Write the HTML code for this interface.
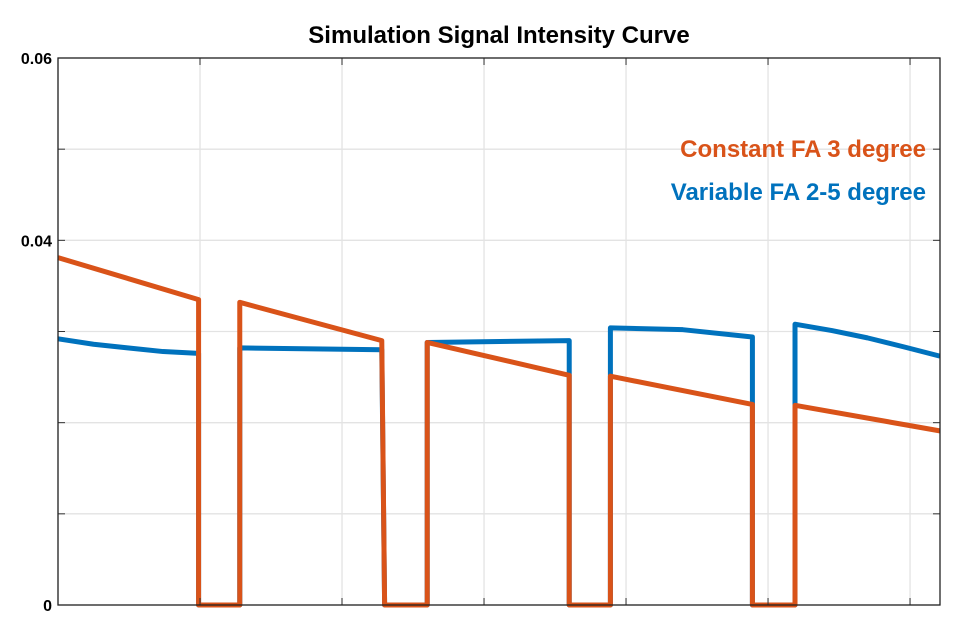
<!DOCTYPE html>
<html><head><meta charset="utf-8"><style>
body{margin:0;background:#fff;}
svg{display:block;font-family:"Liberation Sans","DejaVu Sans",sans-serif;}
</style></head><body>
<svg id="chart" width="966" height="632">
<text x="499" y="43" text-anchor="middle" font-size="24" font-weight="bold" fill="#000">Simulation Signal Intensity Curve</text>
<g id="grid"></g><g id="series"></g><g id="axes"></g>
<text x="926" y="157" text-anchor="end" font-size="24" font-weight="bold" fill="#D95319">Constant FA 3 degree</text>
<text x="926" y="200" text-anchor="end" font-size="24" font-weight="bold" fill="#0072BD">Variable FA 2-5 degree</text>
</svg>
<script>
const yTicks=[0,0.01,0.02,0.03,0.04,0.05,0.06];
const yLabels=["0","","","","0.04","","0.06"];
const xTicks=[0,1,2,3,4,5,6];
const orangeX=[0,0.99,0.99,1.28,1.28,2.28,2.30,2.60,2.60,3.60,3.60,3.89,3.89,4.89,4.89,5.19,5.19,6.21];
const orangeY=[0.0381,0.0335,0,0,0.0332,0.0290,0,0,0.0288,0.0252,0,0,0.0251,0.0220,0,0,0.0219,0.0191];
const blueX=[0,0.25,0.49,0.74,0.99,0.99,1.28,1.28,1.80,2.28,2.30,2.60,2.60,3.60,3.60,3.89,3.89,4.40,4.89,4.89,5.19,5.19,5.45,5.70,5.96,6.21];
const blueY=[0.0292,0.0286,0.0282,0.0278,0.0276,0,0,0.0282,0.0281,0.0280,0,0,0.0288,0.0290,0,0,0.0304,0.0302,0.0294,0,0,0.0308,0.0301,0.0293,0.0283,0.0273];
const L=58,R=940,T=58,B=605,xMax=6.211,yMax=0.06;
const sx=v=>L+v/xMax*(R-L), sy=v=>B-v/yMax*(B-T);
const NS="http://www.w3.org/2000/svg";
function mk(t,a,p){const e=document.createElementNS(NS,t);for(const k in a)e.setAttribute(k,a[k]);p.appendChild(e);return e;}
const grid=document.getElementById('grid'),axes=document.getElementById('axes'),ser=document.getElementById('series');
xTicks.forEach(v=>{const g=mk('line',{x1:sx(v),x2:sx(v),y1:T,y2:B,stroke:'#e3e3e3','stroke-width':1.3},grid);


mk('line',{x1:sx(v),x2:sx(v),y1:B,y2:B-7,stroke:'#333'},axes);mk('line',{x1:sx(v),x2:sx(v),y1:T,y2:T+7,stroke:'#333'},axes);});
yTicks.forEach((v,i)=>{const g=mk('line',{x1:L,x2:R,y1:sy(v),y2:sy(v),stroke:'#e3e3e3','stroke-width':1.3},grid);


mk('line',{x1:L,x2:L+7,y1:sy(v),y2:sy(v),stroke:'#333'},axes);mk('line',{x1:R,x2:R-7,y1:sy(v),y2:sy(v),stroke:'#333'},axes);
if(yLabels[i]){const t=mk('text',{x:L-6,y:sy(v)+6,'text-anchor':'end','font-size':16,'font-weight':'bold'},axes);t.textContent=yLabels[i];

}});
const box=mk('rect',{x:L,y:T,width:R-L,height:B-T,fill:'none',stroke:'#222','stroke-width':1.3},axes);


function line(xs,ys,c,n){const p=mk('polyline',{points:xs.map((x,i)=>sx(x)+','+sy(ys[i])).join(' '),fill:'none',stroke:c,'stroke-width':5,'stroke-linejoin':'round'},ser);

}
line(blueX,blueY,'#0072BD','variable-fa-line');
line(orangeX,orangeY,'#D95319','constant-fa-line');
</script>
</body></html>
